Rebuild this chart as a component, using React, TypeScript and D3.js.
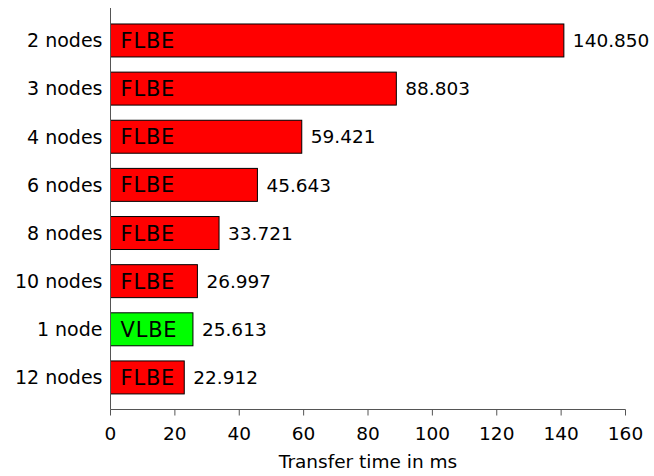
import React from "react";
import * as d3 from "d3";

const categories = ["2 nodes", "3 nodes", "4 nodes", "6 nodes", "8 nodes", "10 nodes", "1 node", "12 nodes"];
const values = [140.85, 88.803, 59.421, 45.643, 33.721, 26.997, 25.613, 22.912];
const labels = ["140.850", "88.803", "59.421", "45.643", "33.721", "26.997", "25.613", "22.912"];
const methods = ["FLBE", "FLBE", "FLBE", "FLBE", "FLBE", "FLBE", "VLBE", "FLBE"];
const xTicks = [0, 20, 40, 60, 80, 100, 120, 140, 160];

const W = 654;
const H = 476;
const FONT = "'DejaVu Sans', sans-serif";

export default function App() {
  const x = d3.scaleLinear().domain([0, 160]).range([110.5, 625.5]);
  const y = d3
    .scaleBand<string>()
    .domain(categories)
    .range([16.4, 401.5])
    .paddingInner(0.315)
    .paddingOuter(0.1575);
  const axisY = 409.5;
  const fs = 18.5;
  return (
    <svg width={W} height={H} style={{ position: "absolute", left: 0, top: 0, background: "#fff" }}>
      {categories.map((c, i) => {
        const y0 = y(c)!;
        const bh = y.bandwidth();
        const cy = y0 + bh / 2;
        return (
          <g key={c}>
            <rect
              x={x(0)}
              y={y0}
              width={x(values[i]) - x(0)}
              height={bh}
              fill={methods[i] === "VLBE" ? "#00ff00" : "#ff0000"}
              stroke="#000"
              strokeWidth={1}
            />
            <text x={x(0) + 10} y={cy} dy="0.36em" fontFamily={FONT} fontSize={21} letterSpacing={0.8} fill="#000">
              {methods[i]}
            </text>
            <text x={x(values[i]) + 9} y={cy} dy="0.36em" fontFamily={FONT} fontSize={fs} fill="#000">
              {labels[i]}
            </text>
            <text x={x(0) - 8} y={cy} dy="0.36em" textAnchor="end" fontFamily={FONT} fontSize={19} fill="#000">
              {c}
            </text>
          </g>
        );
      })}
      <line x1={x(0)} x2={x(0)} y1={8} y2={axisY} stroke="#555" strokeWidth={1} />
      <line x1={x(0)} x2={x(160)} y1={axisY} y2={axisY} stroke="#555" strokeWidth={1} />
      {xTicks.map((t) => (
        <g key={t}>
          <line x1={x(t)} x2={x(t)} y1={axisY} y2={axisY + 6} stroke="#555" strokeWidth={1} />
          <text x={x(t)} y={433.3} dy="0.36em" textAnchor="middle" fontFamily={FONT} fontSize={fs} fill="#000">
            {t}
          </text>
        </g>
      ))}
      <text x={(x(0) + x(160)) / 2} y={461} dy="0.36em" textAnchor="middle" fontFamily={FONT} fontSize={fs} fill="#000">
        Transfer time in ms
      </text>
    </svg>
  );
}
